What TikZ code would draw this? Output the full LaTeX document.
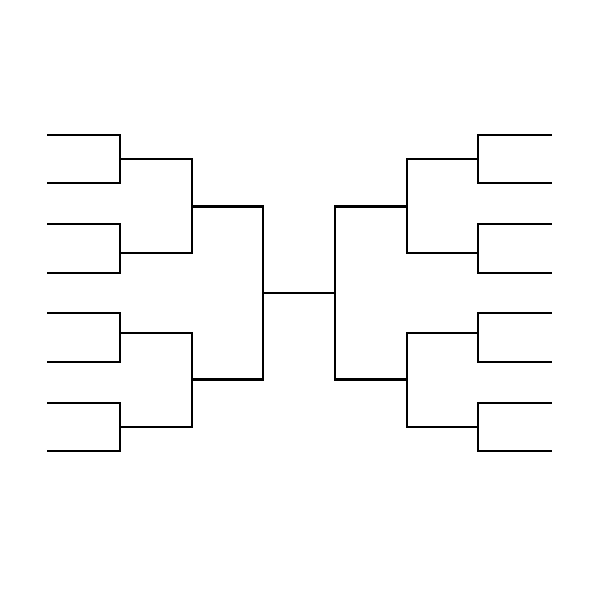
\documentclass[tikz,border=0pt]{standalone}
\begin{document}
\begin{tikzpicture}[x=0.025cm,y=-0.025cm]
\tikzstyle{bline}=[line width=1.5pt,line join=miter,black];
\useasboundingbox (0,0) rectangle (600,600);
% both halves, mirrored about the centre
\foreach \s/\n in {-1/l,1/r}{
  % first round
  \foreach \a/\b/\m/\k in {-158.3/-109.8/-134/1,-69.2/-20.4/-40/2,20.4/69.2/40/3,109.8/158.3/134/4}{
    \coordinate (\n a\k) at ({299.3+\s*252.3},{293+\a});
    \coordinate (\n b\k) at ({299.3+\s*252.3},{293+\b});
    \coordinate (\n m\k) at ({299.3+\s*179},{293+\m});
    \draw[bline] (\n a\k) -| (\n m\k) |- (\n b\k);
  }
  % second round
  \coordinate (\n c1) at ({299.3+\s*107.5},{293-86.5});
  \coordinate (\n c2) at ({299.3+\s*107.5},{293+86.5});
  \draw[bline] (\n m1) -| (\n c1) |- (\n m2);
  \draw[bline] (\n m3) -| (\n c2) |- (\n m4);
  % semi final
  \coordinate (\n f) at ({299.3+\s*36},293);
  \draw[bline] (\n c1) -| (\n f) |- (\n c2);
}
% final
\draw[bline] (lf) -- (rf);
\end{tikzpicture}
\end{document}
